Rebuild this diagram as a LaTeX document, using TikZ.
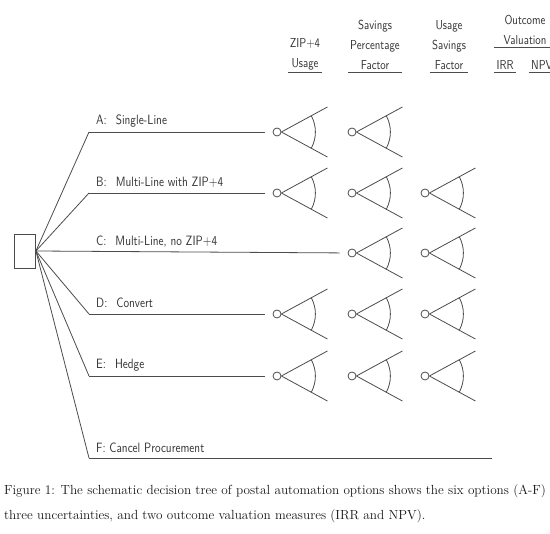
\documentclass[tikz,border=0pt]{standalone}
\usepackage{fontspec}
\newfontfamily\plotfont{lmsans10-regular}[Extension=.otf, FakeStretch=0.83]
\newcommand{\chancefan}[1]{%
	\draw[branch] (#1.east) -- ++(46,-25) coordinate (#1-up)
	(#1.east) -- ++(46,25) coordinate (#1-dn);
	\draw[branch] ([shift={(-28.5:34pt)}]#1.east) arc[start angle=-28.5,end angle=28.5,radius=34pt];
}
\begin{document}
\begin{tikzpicture}[x=1pt, y=-1pt]
	\tikzstyle{branch} = [draw=black!70, line width=0.8pt]
	\tikzstyle{box} = [rectangle,draw=black!70,line width=0.8pt,minimum width=21pt,minimum height=34pt,inner sep=0pt]
	\tikzstyle{chance} = [circle,draw=black!70,line width=0.8pt,minimum size=8pt,inner sep=0pt]
	\tikzstyle{opt} = [anchor=west,text=black!80,font=\plotfont\fontsize{13.5}{16}\selectfont,inner sep=0pt]
	\tikzstyle{head} = [anchor=south,align=center,text=black!80,font=\plotfont\fontsize{13}{20}\selectfont,inner sep=2pt]
	\clip (0,0) rectangle (550,534);
	\fill[white] (0,0) rectangle (550,534);
	% decision node
	\node[box](root)at(25,251){};
	% option corners
	\coordinate (ka) at (89,132);
	\coordinate (kb) at (89,193);
	\coordinate (kd) at (89,314);
	\coordinate (ke) at (89,376);
	\coordinate (kf) at (89,458);
	\coordinate (ef) at (492,458);
	% option labels
	\node[opt](la)at(96,121){A:\hspace{9pt}Single-Line};
	\node[opt](lb)at(96,182){B:\hspace{9pt}Multi-Line with ZIP+4};
	\node[opt](lc)at(96,242){C:\hspace{9pt}Multi-Line, no ZIP+4};
	\node[opt](ld)at(96,303){D:\hspace{9pt}Convert};
	\node[opt](le)at(96,365){E:\hspace{9pt}Hedge};
	\node[opt](lf)at(96,448){F: Cancel Procurement};
	% uncertainties
	\node[chance](a1)at(277,132){};
	\node[chance](a2)at(352,132){};
	\node[chance](b1)at(277,193){};
	\node[chance](b2)at(352,193){};
	\node[chance](b3)at(425,193){};
	\node[chance](c2)at(352,253){};
	\node[chance](c3)at(425,253){};
	\node[chance](d1)at(277,314){};
	\node[chance](d2)at(352,314){};
	\node[chance](d3)at(425,314){};
	\node[chance](e1)at(277,376){};
	\node[chance](e2)at(352,376){};
	\node[chance](e3)at(425,376){};
	\foreach \n in {a1,a2,b1,b2,b3,c2,c3,d1,d2,d3,e1,e2,e3}
	{\chancefan{\n}}
	% branches
	\path[branch] (root.east) edge (ka)
	(root.east) edge (kb)
	(root.east) edge (kd)
	(root.east) edge (ke)
	(root.east) edge (kf)
	(kf) edge (ef);
	\path[branch,shorten >=8pt] (ka) edge (a1)
	(kb) edge (b1)
	(root.east) edge (c2)
	(kd) edge (d1)
	(ke) edge (e1);
	% column heads
	\node[head](h1)at(305,72){ZIP+4\\Usage};
	\node[head](h2)at(375,72){Savings\\Percentage\\Factor};
	\node[head](h3)at(449,72){Usage\\Savings\\Factor};
	\node[head](h4)at(525,47){Outcome\\Valuation};
	\node[head](h5)at(505,72){IRR};
	\node[head](h6)at(542,72){NPV};
	\foreach \h in {h1,h2,h3,h5,h6}
	{\draw[branch] (\h.south west) -- (\h.south east);}
	\draw[branch] (h5.south west |- h4.south) -- (h6.south east |- h4.south);
	% caption
	\node[anchor=north west,align=left,inner sep=0pt,text=black!90,font=\fontsize{13.2}{25}\selectfont](cap)at(4,484){Figure 1: The schematic decision tree of postal automation options shows the six options (A-F)\\three uncertainties, and two outcome valuation measures (IRR and NPV).};
\end{tikzpicture}
\end{document}
